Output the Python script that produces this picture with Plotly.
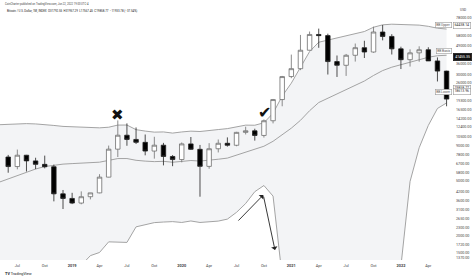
import math
import plotly.graph_objects as go

# ---------------- data ----------------
months = ["2018-05", "2018-06", "2018-07", "2018-08", "2018-09", "2018-10", "2018-11", "2018-12",
          "2019-01", "2019-02", "2019-03", "2019-04", "2019-05", "2019-06", "2019-07", "2019-08",
          "2019-09", "2019-10", "2019-11", "2019-12", "2020-01", "2020-02", "2020-03", "2020-04",
          "2020-05", "2020-06", "2020-07", "2020-08", "2020-09", "2020-10", "2020-11", "2020-12",
          "2021-01", "2021-02", "2021-03", "2021-04", "2021-05", "2021-06", "2021-07", "2021-08",
          "2021-09", "2021-10", "2021-11", "2021-12", "2022-01", "2022-02", "2022-03", "2022-04",
          "2022-05", "2022-06"]
candle_months = months[1:]

opens = [7500, 6390, 7730, 7030, 6630, 6370, 4040,
         3740, 3460, 3850, 4105, 5350, 8560, 10820, 10080, 9600, 8290, 9150, 7570,
         7190, 9350, 8540, 6410, 8620, 9450, 9140, 11350, 11650, 10780, 13800, 19700,
         28990, 33110, 45140, 58800, 57700, 37300, 35040, 41460, 47100, 43800, 61300, 56900,
         46200, 38500, 43200, 45500, 37700, 31790]
highs = [7770, 8500, 7770, 7410, 7680, 6600, 4310,
         4110, 4210, 4100, 5620, 9090, 13880, 13200, 12330, 10950, 10540, 9510, 7750,
         9580, 10500, 9190, 9470, 10070, 10430, 11450, 12480, 12070, 14100, 19900, 29300,
         41950, 58350, 61780, 64900, 59600, 41300, 42400, 50500, 52920, 67000, 69000, 59100,
         47900, 45800, 48200, 47450, 40000, 31960]
lows = [5760, 6100, 5880, 6120, 6200, 3560, 3130,
        3400, 3390, 3680, 4080, 5330, 7500, 9060, 9330, 7720, 7300, 6520, 6430,
        6860, 8460, 3850, 6160, 8100, 8930, 8990, 10960, 9880, 10400, 13200, 17600,
        28200, 32300, 44950, 47000, 30000, 28800, 29300, 37300, 39600, 43300, 53300, 42000,
        32900, 34300, 37200, 37700, 26700, 17600]
closes = [6390, 7730, 7030, 6630, 6370, 4040, 3740,
          3460, 3850, 4105, 5350, 8560, 10820, 10080, 9600, 8290, 9150, 7570, 7190,
          9350, 8540, 6410, 8620, 9450, 9140, 11350, 11650, 10780, 13800, 19700, 28990,
          33110, 45140, 58800, 57700, 37300, 35040, 41460, 47100, 43800, 61300, 56900, 46200,
          38500, 43200, 45500, 37700, 31790, 19858.77]

bb_upper = [12910, 12978, 13120, 13147, 13080, 12960, 12749, 12547,
            12454, 12349, 12260, 12248, 12375, 12826, 12837, 11877,
            11600, 11395, 11435, 11213, 11433, 11585, 11517, 11652,
            11899, 12090, 12500, 12819, 12797, 13334, 15652, 20900,
            25960, 33770, 44110, 51630, 53660, 55150, 57280, 59970,
            61800, 66410, 69160, 69900, 69580, 69210, 68820, 67450,
            65340, 64438.14]
bb_basis = [4910, 5194, 5543, 5847, 6130, 6389, 6537, 6657,
            6715, 6783, 6845, 6878, 7089, 7308, 7312, 7099,
            7002, 6943, 6975, 6873, 6965, 7073, 7007, 7086,
            7227, 7366, 7731, 8127, 8493, 8990, 9770, 10952,
            12180, 13896, 16332, 18737, 20187, 21480, 23176, 25170,
            26894, 29532, 32057, 33936, 35388, 37091, 38799, 40101,
            41152, 41455.35]
bb_lower = [-3090, -2590, -2040, -1450, -820, -180, 325, 766,
            975, 1217, 1430, 1508, 1803, 1790, 1786, 2320,
            2405, 2491, 2515, 2533, 2497, 2561, 2497, 2520,
            2555, 2642, 2961, 3435, 4189, 4646, 3888, 1004,
            -1600, -5980, -11450, -14150, -13290, -12190, -10930, -9630,
            -8000, -7340, -5050, -2020, 1198, 4970, 8770, 12757,
            16960, 18613.96]

x_tick_months = ["2018-07", "2018-10", "2019-01", "2019-04", "2019-07", "2019-10",
                 "2020-01", "2020-04", "2020-07", "2020-10", "2021-01", "2021-04",
                 "2021-07", "2021-10", "2022-01", "2022-04"]
x_tick_text = ["Jul", "Oct", "<b>2019</b>", "Apr", "Jul", "Oct", "<b>2020</b>", "Apr",
               "Jul", "Oct", "<b>2021</b>", "Apr", "Jul", "Oct", "<b>2022</b>", "Apr"]
y_tick_values = [78000, 58000, 49000, 36000, 30000, 26000, 19300, 16500, 14200, 12400,
                 10500, 9000, 7800, 6700, 5800, 5000, 4200, 3600, 3100, 2650, 2300,
                 2000, 1720, 1500, 1370]

header_top = "CoinCharter published on TradingView.com, Jun 22, 2022 19:00 UTC-4"
header_legend = ("Bitcoin / U.S. Dollar, 1M, INDEX  O31792.55  H31957.29  L17567.45  "
                 "C19858.77  \u221211933.78 (\u221237.54%)")

# ---------------- figure ----------------
FLOOR = 100  # lower band values below the visible range are drawn off-chart
low_draw = [max(v, FLOOR) for v in bb_lower]

fig = go.Figure()

# band fill (base axes, drawn below the candles)
fig.add_trace(go.Scatter(
    x=months + months[::-1], y=bb_upper + low_draw[::-1],
    fill="toself", fillcolor="#f3f4f6", line=dict(width=0),
    hoverinfo="skip", mode="lines"))

band_line = dict(color="#9a9a9a", width=0.9)
for arr in (bb_upper, bb_basis, low_draw):
    fig.add_trace(go.Scatter(x=months, y=arr, mode="lines", line=band_line,
                             hoverinfo="skip"))

# candles on an overlaid copy of the axes, so they sit above the fill
fig.add_trace(go.Candlestick(
    x=candle_months, open=opens, high=highs, low=lows, close=closes,
    increasing=dict(fillcolor="#ffffff", line=dict(color="#6e6e6e", width=0.8)),
    decreasing=dict(fillcolor="#000000", line=dict(color="#222222", width=0.8)),
    whiskerwidth=0, hoverinfo="skip", xaxis="x2", yaxis="y2"))

# ---------------- layout ----------------
W, H = 474, 277
ML, MR, MT, MB = 0, 22, 6, 17
PW, PH = W - ML - MR, H - MT - MB
PX_PER_MONTH = 9.133
first_candle_px = 8.2
i0 = months.index(candle_months[0])
x_lo = i0 - first_candle_px / PX_PER_MONTH
x_hi = i0 + (PW - first_candle_px) / PX_PER_MONTH

y_lo, y_hi = 1329, 94900
y_range = [math.log10(y_lo), math.log10(y_hi)]

fig.update_layout(
    width=W, height=H,
    margin=dict(l=ML, r=MR, t=MT, b=MB),
    paper_bgcolor="white", plot_bgcolor="white",
    showlegend=False,
    font=dict(family="Roboto, Arial, sans-serif", color="#333"),
    xaxis=dict(type="category", categoryorder="array", categoryarray=months,
               range=[x_lo, x_hi], tickmode="array", tickvals=x_tick_months,
               ticktext=x_tick_text, tickfont=dict(size=3.9, color="#444"),
               showgrid=False, zeroline=False, showline=False, ticks="",
               ticklabelstandoff=2, fixedrange=True, rangeslider=dict(visible=False)),
    yaxis=dict(type="log", side="right", range=y_range,
               tickmode="array", tickvals=y_tick_values,
               ticktext=[f"{v:.2f}" for v in y_tick_values],
               tickfont=dict(size=3.7, color="#444"), showgrid=False,
               zeroline=False, showline=False, ticks="", ticklabelstandoff=3,
               fixedrange=True),
    xaxis2=dict(type="category", categoryorder="array", categoryarray=months,
                range=[x_lo, x_hi], overlaying="x", visible=False, fixedrange=True,
                rangeslider=dict(visible=False)),
    yaxis2=dict(type="log", range=y_range, overlaying="y", side="right",
                visible=False, fixedrange=True),
)


def py(px):
    return (H - MB - px) / PH


def pxx(px):
    return (px - ML) / PW


ann = []
ann.append(dict(text=header_top, xref="paper", yref="paper", x=pxx(2.5), y=py(3.5),
                xanchor="left", yanchor="middle", showarrow=False,
                font=dict(size=2.7, color="#444")))
ann.append(dict(text=header_legend, xref="paper", yref="paper", x=pxx(5), y=py(11),
                xanchor="left", yanchor="middle", showarrow=False,
                font=dict(size=2.9, color="#222")))
ann.append(dict(text="USD", xref="paper", yref="paper", x=pxx(458), y=py(10),
                xanchor="left", yanchor="middle", showarrow=False,
                font=dict(size=3.3, color="#444")))
ann.append(dict(text="<b>TV</b> TradingView", xref="paper", yref="paper", x=pxx(2.5),
                y=py(273), xanchor="left", yanchor="middle", showarrow=False,
                font=dict(size=3.8, color="#131722")))

# markers drawn on the chart
ann.append(dict(text="\u2716\ufe0e", x=months.index("2019-06"), y=math.log10(15200),
                xref="x", yref="y", showarrow=False,
                font=dict(size=15, color="#111", family="DejaVu Sans")))
ann.append(dict(text="\u2714\ufe0e", x=months.index("2020-10") + 0.05, y=math.log10(15900),
                xref="x", yref="y", showarrow=False,
                font=dict(size=16, color="#111", family="DejaVu Sans")))

# arrows
arrow_tail = (months.index("2020-07") + 0.05, 2515)
arrow_mid = (months.index("2020-10") - 0.07, 3960)
arrow_end = (months.index("2020-11") + 0.21, 1572)
for (tx, ty), (hx, hy) in ((arrow_tail, arrow_mid), (arrow_mid, arrow_end)):
    ann.append(dict(text="", x=hx, y=math.log10(hy), ax=tx, ay=math.log10(ty),
                    xref="x", yref="y", axref="x", ayref="y", showarrow=True,
                    arrowhead=1, arrowsize=1.2, arrowwidth=0.9, arrowcolor="#222"))


# price scale labels
def tag(text, value, shift):
    return dict(text=text, xref="paper", yref="y", x=1.0, y=math.log10(value),
                xanchor="right", yanchor="middle", yshift=shift, showarrow=False,
                bgcolor="white", bordercolor="#9a9a9a", borderwidth=0.6, borderpad=0.6,
                font=dict(size=3.3, color="#555"))


def valbox(value, shift, dark=False):
    return dict(text=f"{value:.2f}", xref="paper", yref="y", x=pxx(453),
                y=math.log10(value), xanchor="left", yanchor="middle", yshift=shift,
                showarrow=False, bgcolor="#111" if dark else "white",
                bordercolor="#111" if dark else "#9a9a9a", borderwidth=0.6,
                borderpad=0.8 if not dark else 1.6,
                font=dict(size=3.5, color="white" if dark else "#333"))


ann.append(tag("BB Upper", bb_upper[-1], 4))
ann.append(valbox(bb_upper[-1], 4))
ann.append(tag("BB Basis", bb_basis[-1], 4.5))
ann.append(valbox(bb_basis[-1], -1.5, dark=True))
ann.append(valbox(closes[-1], 11))
ann.append(tag("BB Lower", bb_lower[-1], 11))
ann.append(valbox(bb_lower[-1], 11))

fig.update_layout(annotations=ann)

fig.write_html("out.html")
